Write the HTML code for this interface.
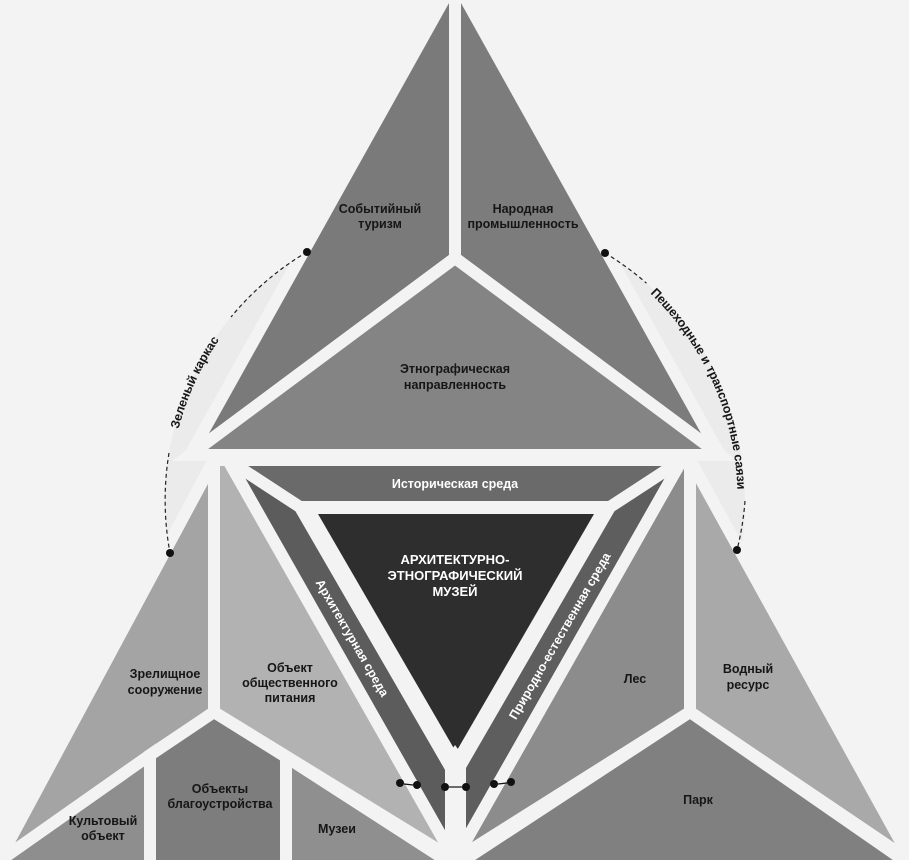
<!DOCTYPE html>
<html><head><meta charset="utf-8"><style>
html,body{margin:0;padding:0;background:#f3f3f3;}
svg{display:block;}
text{font-family:"Liberation Sans",Arial,sans-serif;font-weight:bold;font-size:12.5px;fill:#161616;}
.w{fill:#fff;}
</style></head><body>
<svg width="909" height="860" viewBox="0 0 909 860" xmlns="http://www.w3.org/2000/svg">
<rect width="909" height="860" fill="#f3f3f3"/>
<circle cx="455" cy="501" r="290" fill="#ebebeb"/>
<g stroke="#f3f3f3" stroke-width="12" stroke-linejoin="miter">
<polygon points="455,-20 455,258 190,455" fill="#7a7a7a"/>
<polygon points="455,-20 720,455 455,258" fill="#7c7c7c"/>
<polygon points="455,258 720,455 190,455" fill="#848484"/>
<polygon points="214,460 214,712 -2,862" fill="#a4a4a4"/>
<polygon points="-2,862 150,755 150,866 -2,866" fill="#8e8e8e"/>
<polygon points="150,755 214,712 286,757 286,866 150,866" fill="#7d7d7d"/>
<polygon points="286,757 455,866 286,866" fill="#8f8f8f"/>
<polygon points="214,460 228,460 455,860 214,712" fill="#b2b2b2"/>
<polygon points="228,460 300,507 455,775 455,860" fill="#5c5c5c"/>
<polygon points="228,460 682,460 610,507 300,507" fill="#6a6a6a"/>
<polygon points="300,507 610,507 455,775" fill="#f3f3f3"/>
<polygon points="682,460 610,507 455,775 455,860" fill="#5e5e5e"/>
<polygon points="690,460 682,460 455,860 690,712" fill="#8c8c8c"/>
<polygon points="690,460 912,862 690,712" fill="#a9a9a9"/>
<polygon points="690,712 912,866 455,866" fill="#808080"/>
</g>
<polygon points="318,514 594,514 456,752" fill="#2e2e2e"/>
<rect x="445" y="752" width="21" height="108" fill="#f3f3f3"/>
<polygon points="445,760 455,745 466,760" fill="#f3f3f3"/>
<rect x="0" y="448" width="909" height="12" fill="#f3f3f3" opacity="0"/>
<!-- arcs -->
<g fill="none" stroke="#222" stroke-width="1.2" stroke-dasharray="4,3">
<path d="M307,252 A290,290 0 0 0 231,317"/>
<path d="M169,453 A290,290 0 0 0 170,553"/>
<path d="M605,253 A290,290 0 0 1 646.5,283.2"/>
<path d="M745,501 A290,290 0 0 1 737,550"/>
</g>
<path id="la" d="M170,553 A290,290 0 0 1 307,252" fill="none"/>
<path id="ra" d="M605,253 A290,290 0 0 1 737,550" fill="none"/>
<text dy="4"><textPath href="#la" startOffset="50%" text-anchor="middle">Зеленый каркас</textPath></text>
<text dy="4"><textPath href="#ra" startOffset="50%" text-anchor="middle">Пешеходные и транспортные саязи</textPath></text>
<g fill="#111">
<circle cx="307" cy="252" r="4"/><circle cx="170" cy="553" r="4"/>
<circle cx="605" cy="253" r="4"/><circle cx="737" cy="550" r="4"/>
<circle cx="400" cy="783" r="4"/><circle cx="417" cy="785" r="4"/>
<circle cx="445" cy="787" r="4"/><circle cx="466" cy="787" r="4"/>
<circle cx="494" cy="784" r="4"/><circle cx="511" cy="782" r="4"/>
</g>
<g stroke="#111" stroke-width="1.2">
<line x1="404" y1="784" x2="413" y2="785"/><line x1="449" y1="787" x2="462" y2="787"/><line x1="498" y1="784" x2="507" y2="783"/>
</g>
<g text-anchor="middle">
<text x="380" y="213">Событийный</text><text x="380" y="228">туризм</text>
<text x="523" y="213">Народная</text><text x="523" y="228">промышленность</text>
<text x="455" y="373">Этнографическая</text><text x="455" y="389">направленность</text>
<text class="w" x="455" y="488">Историческая среда</text>
<text class="w" x="455" y="564" style="font-size:13px">АРХИТЕКТУРНО-</text>
<text class="w" x="455" y="580" style="font-size:13px">ЭТНОГРАФИЧЕСКИЙ</text>
<text class="w" x="455" y="596" style="font-size:13px">МУЗЕЙ</text>
<text class="w" transform="translate(352,638) rotate(60)" dy="4">Архитектурная среда</text>
<text class="w" transform="translate(560,636) rotate(-60)" dy="4">Природно-естественная среда</text>
<text x="165" y="678">Зрелищное</text><text x="165" y="694">сооружение</text>
<text x="290" y="672">Объект</text><text x="290" y="687">общественного</text><text x="290" y="702">питания</text>
<text x="635" y="683">Лес</text>
<text x="748" y="673">Водный</text><text x="748" y="689">ресурс</text>
<text x="220" y="793">Объекты</text><text x="220" y="808">благоустройства</text>
<text x="103" y="825">Культовый</text><text x="103" y="840">объект</text>
<text x="337" y="833">Музеи</text>
<text x="698" y="804">Парк</text>
</g>
</svg>
</body></html>
